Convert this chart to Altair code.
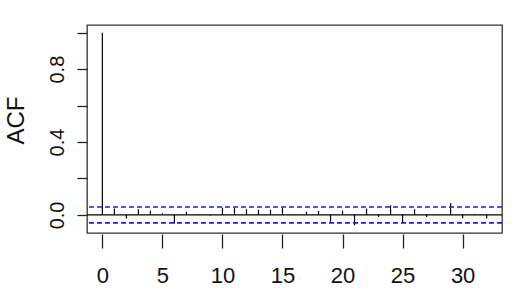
import altair as alt
import pandas as pd

lags = list(range(0, 33))
acf = [1.0, 0.035, -0.020, 0.031, 0.024, 0.009, -0.048, 0.017, 0.003, -0.004,
       0.040, 0.040, 0.031, 0.029, 0.029, 0.040, 0.002, 0.017, 0.022, -0.038,
       0.024, -0.057, 0.035, -0.011, 0.053, -0.042, 0.031, -0.011, 0.002, 0.064,
       -0.018, 0.004, -0.020]
ci = 0.0438
x_ticks = [0, 5, 10, 15, 20, 25, 30]
y_ticks = [0.0, 0.2, 0.4, 0.6, 0.8, 1.0]

df = pd.DataFrame({"lag": lags, "acf": acf, "zero": [0.0] * len(lags)})
hl = pd.DataFrame({"y": [ci, -ci, 0.0], "kind": ["ci", "ci", "zero"]})

xscale = alt.Scale(domain=[-1.28, 33.28], nice=False, zero=False)
yscale = alt.Scale(domain=[-0.0993, 1.0423], nice=False, zero=False)

FONT = "Liberation Sans"

xaxis = alt.Axis(values=x_ticks, title=None, grid=False, domain=False,
                 tickSize=14, tickColor="#222222", tickWidth=1.3,
                 labelFontSize=22, labelFont=FONT, labelColor="#111111",
                 labelPadding=17, labelFlush=False, labelOverlap=False,
                 offset=1)
yaxis = alt.Axis(values=y_ticks, title="ACF", grid=False, domain=False,
                 tickSize=10, tickColor="#222222", tickWidth=1.3,
                 format=".1f",
                 labelExpr="indexof(['0.0','0.4','0.8'], datum.label) >= 0 ? datum.label : ''",
                 labelAngle=270, labelAlign="center", labelBaseline="alphabetic",
                 labelFontSize=20, labelFont=FONT, labelColor="#111111",
                 labelPadding=14, labelOverlap=False, labelFlush=False,
                 titleFont=FONT, titleFontSize=24, titleFontWeight="normal",
                 titleColor="#111111", titleAngle=270, titleAlign="center",
                 titleBaseline="alphabetic", titleX=-64, titleY=95)

bars = alt.Chart(df).mark_rule(color="#000000", strokeWidth=1.2).encode(
    x=alt.X("lag:Q", scale=xscale, axis=xaxis),
    y=alt.Y("zero:Q", scale=yscale, axis=yaxis),
    y2="acf:Q",
)

zero_line = alt.Chart(hl[hl.kind == "zero"]).mark_rule(color="#000000", strokeWidth=1.2).encode(
    y=alt.Y("y:Q", scale=yscale),
)

ci_lines = alt.Chart(hl[hl.kind == "ci"]).mark_rule(
    color="#1a1aff", strokeWidth=1.6, strokeDash=[5, 3]
).encode(
    y=alt.Y("y:Q", scale=yscale),
)

chart = alt.layer(bars, zero_line, ci_lines).properties(
    width=415, height=208,
    padding={"left": 87, "top": 25, "right": 14, "bottom": 72},
    autosize=alt.AutoSizeParams(type="none"),
    background="white",
).configure_view(stroke="#333333", strokeWidth=1.3)

chart.save("out.html", embed_options={"renderer": "svg", "actions": False})
